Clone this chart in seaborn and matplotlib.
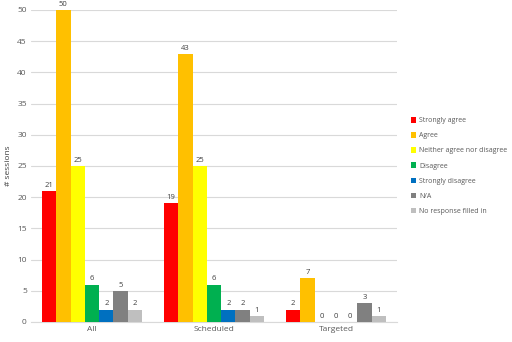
import pandas as pd
import matplotlib
matplotlib.use("Agg")
import matplotlib.pyplot as plt
import seaborn as sns

groups = ["All", "Scheduled", "Targeted"]
responses = ["Strongly agree", "Agree", "Neither agree nor disagree", "Disagree",
             "Strongly disagree", "N/A", "No response filled in"]
strongly_agree = [21, 19, 2]
agree = [50, 43, 7]
neither = [25, 25, 0]
disagree = [6, 6, 0]
strongly_disagree = [2, 2, 0]
na = [5, 2, 3]
no_response = [2, 1, 1]
colors = ["#FF0000", "#FFC000", "#FFFF00", "#00B050", "#0070C0", "#808080", "#BFBFBF"]

series = [strongly_agree, agree, neither, disagree, strongly_disagree, na, no_response]
rows = []
for resp, vals in zip(responses, series):
    for g, v in zip(groups, vals):
        rows.append({"group": g, "response": resp, "sessions": v})
df = pd.DataFrame(rows)

sns.set_style("white")
plt.rcParams["font.family"] = ["Open Sans", "DejaVu Sans"]

fig = plt.figure(figsize=(5.12, 3.42), dpi=100)
ax = fig.add_axes([31 / 512, 20 / 342, 366 / 512, 312 / 342])

sns.barplot(data=df, x="group", y="sessions", hue="response", hue_order=responses,
            palette=colors, width=0.82, gap=0, saturation=1, linewidth=0,
            ax=ax, zorder=3)

for c in ax.containers:
    labels = ax.bar_label(c, fontsize=5.5, color="#404040", padding=1.5)
    for t in labels:
        t.set_clip_on(False)

ax.set_ylim(0, 50)
ax.set_yticks(range(0, 51, 5))
ax.set_xlim(-0.5, 2.5)
ax.grid(axis="y", color="#D9D9D9", linewidth=0.8, zorder=0)
for s in ["top", "right", "left"]:
    ax.spines[s].set_visible(False)
ax.spines["bottom"].set_color("#D9D9D9")
ax.tick_params(axis="both", labelsize=6, colors="#595959", length=0, pad=3)
ax.set_xlabel("")
ax.set_ylabel("# sessions", fontsize=6, color="#404040", labelpad=4)

ax.legend(loc="center left", bbox_to_anchor=(1.02, 0.5), frameon=False, fontsize=5,
          handlelength=0.8, handleheight=0.8, handletextpad=0.4, labelspacing=1.15,
          labelcolor="#595959")

fig.savefig("out.png", dpi=100)
